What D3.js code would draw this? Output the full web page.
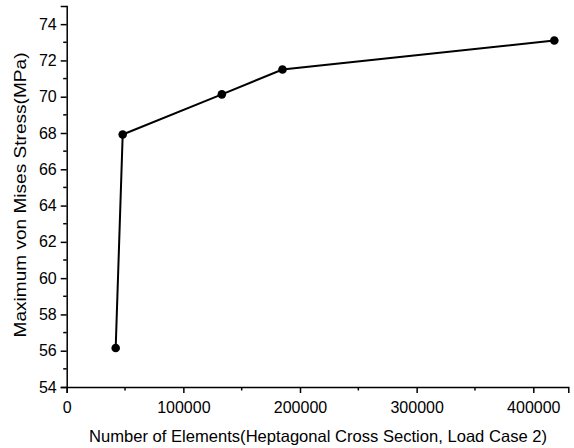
<!DOCTYPE html>
<html><head><meta charset="utf-8">
<script src="https://cdn.jsdelivr.net/npm/d3@7"></script>
<style>
body{margin:0;background:#fff;}
svg{display:block;font-family:"Liberation Sans",Arial,sans-serif;}
.axis path,.axis line{stroke:#000;stroke-width:1.5;}
.axis text{font-size:16px;fill:#000;font-family:"Liberation Sans",Arial,sans-serif;}
</style></head><body>
<svg id="chart" width="574" height="448"></svg>
<script>
const elements = [42000, 48000, 133000, 185000, 418000];
const stress = [56.15, 67.92, 70.13, 71.5, 73.1];
const xTicks = [0, 100000, 200000, 300000, 400000];
const yTicks = [54, 56, 58, 60, 62, 64, 66, 68, 70, 72, 74];
const xTitle = "Number of Elements(Heptagonal Cross Section, Load Case 2)";
const yTitle = "Maximum von Mises Stress(MPa)";

(function(){
const svg = d3.select("#chart");
const mL = 66.7, mR = 568.3, mT = 6, mB = 387;
const x = d3.scaleLinear().domain([0, 430000]).range([mL, mR]);
const y = d3.scaleLinear().domain([54, 75]).range([mB, mT]);

const xMinor = d3.range(50000, 430000, 100000);
const yMinor = d3.range(55, 75, 2);

const gx = svg.append("g").attr("class","axis").attr("transform",`translate(0,${mB})`)
  .call(d3.axisBottom(x).tickValues(xTicks).tickFormat(d3.format("d")).tickSizeOuter(0).tickSize(6).tickPadding(9));
gx.selectAll(".minor").data(xMinor).enter().append("line")
  .attr("x1",d=>x(d)).attr("x2",d=>x(d)).attr("y1",0).attr("y2",3.5);

const gy = svg.append("g").attr("class","axis").attr("transform",`translate(${mL},0)`)
  .call(d3.axisLeft(y).tickValues(yTicks).tickFormat(d3.format("d")).tickSizeOuter(0).tickSize(6).tickPadding(4));
gy.selectAll(".minor").data(yMinor).enter().append("line")
  .attr("y1",d=>y(d)).attr("y2",d=>y(d)).attr("x1",0).attr("x2",-3.5);

const pts = elements.map((e,i)=>[e, stress[i]]);
svg.append("path").datum(pts)
  .attr("fill","none").attr("stroke","#000").attr("stroke-width",2)
  .attr("d", d3.line().x(d=>x(d[0])).y(d=>y(d[1])));
svg.selectAll("circle.pt").data(pts).enter().append("circle")
  .attr("class","pt").attr("cx",d=>x(d[0])).attr("cy",d=>y(d[1])).attr("r",4.3).attr("fill","#000");

svg.append("text").attr("x",318).attr("y",442)
  .attr("text-anchor","middle").attr("font-size",16.5)
  .attr("textLength",458).attr("lengthAdjust","spacingAndGlyphs").text(xTitle);
svg.append("text").attr("transform",`translate(26,195) rotate(-90)`)
  .attr("text-anchor","middle").attr("font-size",16.5)
  .attr("textLength",285).attr("lengthAdjust","spacingAndGlyphs").text(yTitle);
})();
</script>
</body></html>
